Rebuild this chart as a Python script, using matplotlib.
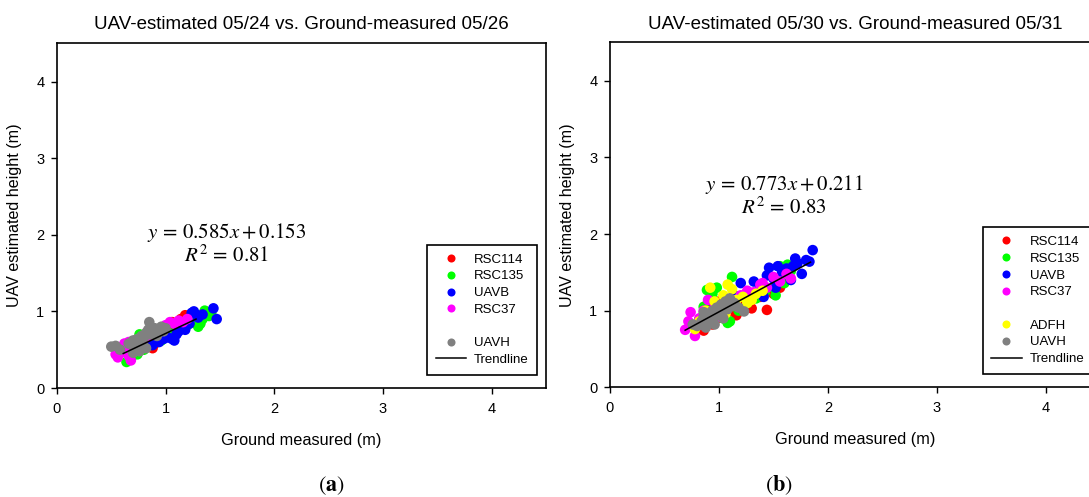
import matplotlib
matplotlib.use("Agg")
import matplotlib.pyplot as plt
from matplotlib.lines import Line2D

plt.rcParams['font.family'] = ['Liberation Sans', 'DejaVu Sans']
plt.rcParams['mathtext.fontset'] = 'stix'

# panel (a): UAV 05/24 vs ground 05/26
a_red_x = [0.78, 0.84, 0.88, 0.92, 0.96, 1.00, 1.04, 1.06, 1.10, 1.14, 1.18, 0.90, 0.98]
a_red_y = [0.56, 0.60, 0.52, 0.64, 0.70, 0.74, 0.82, 0.86, 0.80, 0.90, 0.95, 0.58, 0.66]
a_green_x = [0.64, 0.68, 0.72, 0.76, 0.80, 0.86, 0.90, 0.96, 1.02, 1.08, 1.14, 1.20, 1.26, 1.30, 1.34, 1.36, 1.40, 1.42, 0.74, 1.32]
a_green_y = [0.34, 0.38, 0.62, 0.70, 0.50, 0.56, 0.64, 0.62, 0.70, 0.72, 0.78, 0.82, 0.86, 0.80, 0.90, 1.01, 0.94, 0.97, 0.44, 0.84]
a_blue_x = [0.88, 0.94, 0.98, 1.02, 1.06, 1.08, 1.12, 1.16, 1.18, 1.22, 1.24, 1.26, 1.30, 1.34, 1.44, 1.47, 1.10, 1.00, 1.20]
a_blue_y = [0.56, 0.60, 0.64, 0.66, 0.64, 0.62, 0.74, 0.80, 0.76, 0.84, 0.98, 1.00, 0.92, 0.96, 1.04, 0.90, 0.70, 0.80, 0.88]
a_mag_x = [0.54, 0.56, 0.58, 0.60, 0.62, 0.64, 0.66, 0.68, 0.70, 0.72, 0.76, 0.80, 0.84, 0.88, 0.94, 1.00, 1.04, 1.08, 1.12, 1.16, 1.20, 0.66, 0.62]
a_mag_y = [0.44, 0.40, 0.48, 0.52, 0.56, 0.46, 0.60, 0.36, 0.50, 0.62, 0.56, 0.64, 0.68, 0.72, 0.76, 0.82, 0.86, 0.84, 0.88, 0.86, 0.90, 0.42, 0.58]
a_gray_x = [0.50, 0.54, 0.58, 0.66, 0.70, 0.72, 0.74, 0.76, 0.78, 0.80, 0.82, 0.84, 0.85, 0.86, 0.88, 0.90, 0.92, 0.94, 0.96, 0.98, 1.00, 0.76, 0.82, 0.70]
a_gray_y = [0.54, 0.55, 0.50, 0.58, 0.62, 0.56, 0.64, 0.60, 0.68, 0.66, 0.72, 0.76, 0.86, 0.70, 0.74, 0.78, 0.68, 0.76, 0.80, 0.74, 0.78, 0.48, 0.52, 0.46]
a_trend_x = [0.61, 1.28]
a_trend_y = [0.45, 0.90]

# panel (b): UAV 05/30 vs ground 05/31
b_red_x = [0.80, 0.86, 0.90, 0.94, 0.98, 1.04, 1.10, 1.16, 1.22, 1.30, 1.38, 1.44, 1.50, 1.56, 0.88, 1.00]
b_red_y = [0.76, 0.74, 1.10, 0.82, 0.90, 0.96, 1.00, 0.94, 1.06, 1.03, 1.18, 1.01, 1.22, 1.30, 0.80, 1.12]
b_green_x = [0.82, 0.86, 0.89, 0.94, 0.98, 1.04, 1.10, 1.12, 1.18, 1.26, 1.34, 1.42, 1.50, 1.56, 1.60, 1.63, 1.66, 1.52, 1.08]
b_green_y = [0.88, 1.05, 1.27, 1.22, 1.30, 0.90, 0.86, 1.44, 1.00, 1.10, 1.16, 1.24, 1.30, 1.58, 1.36, 1.60, 1.52, 1.20, 0.84]
b_blue_x = [1.00, 1.06, 1.14, 1.20, 1.26, 1.32, 1.38, 1.44, 1.46, 1.50, 1.54, 1.58, 1.62, 1.66, 1.70, 1.72, 1.76, 1.80, 1.83, 1.86, 1.41, 1.52, 1.68]
b_blue_y = [1.00, 1.08, 1.20, 1.36, 1.24, 1.38, 1.30, 1.46, 1.56, 1.42, 1.58, 1.50, 1.55, 1.40, 1.68, 1.62, 1.48, 1.66, 1.64, 1.79, 1.18, 1.30, 1.58]
b_mag_x = [0.69, 0.72, 0.74, 0.76, 0.78, 0.82, 0.86, 0.90, 0.95, 1.00, 1.06, 1.12, 1.20, 1.26, 1.32, 1.38, 1.44, 1.50, 1.56, 1.62, 1.66, 0.84, 0.92, 1.40]
b_mag_y = [0.75, 0.86, 0.98, 0.80, 0.67, 0.90, 1.00, 1.14, 1.02, 0.92, 1.10, 1.08, 1.20, 1.26, 1.24, 1.34, 1.30, 1.44, 1.38, 1.48, 1.42, 0.82, 0.88, 1.36]
b_yel_x = [0.78, 0.82, 0.88, 0.92, 0.96, 1.00, 1.04, 1.08, 1.12, 1.16, 1.22, 1.26, 1.30, 1.34, 1.40, 0.90, 1.06]
b_yel_y = [0.76, 0.86, 1.00, 1.30, 1.12, 1.06, 1.20, 1.34, 1.28, 1.14, 1.18, 1.10, 1.14, 1.22, 1.26, 0.92, 0.96]
b_gray_x = [0.76, 0.80, 0.84, 0.86, 0.88, 0.90, 0.92, 0.94, 0.96, 0.98, 1.00, 1.02, 1.04, 1.06, 1.08, 1.10, 1.12, 1.14, 1.18, 1.23, 0.96, 1.04, 0.86]
b_gray_y = [0.82, 0.80, 0.86, 0.92, 0.78, 0.96, 0.88, 1.00, 0.92, 1.04, 0.96, 1.08, 1.00, 1.12, 1.02, 1.16, 1.06, 1.10, 1.04, 0.99, 0.82, 0.90, 0.98]
b_trend_x = [0.69, 1.84]
b_trend_y = [0.745, 1.633]

ticks = [0, 1, 2, 3, 4]

fig = plt.figure(figsize=(10.89, 4.97), dpi=100)
ax1 = fig.add_axes([0.0523, 0.2193, 0.449, 0.6936])
ax2 = fig.add_axes([0.5601, 0.2207, 0.4504, 0.694])

def style(ax, title):
    ax.set_xlim(0, 4.5)
    ax.set_ylim(0, 4.5)
    ax.set_xticks(ticks)
    ax.set_yticks(ticks)
    for s in ax.spines.values():
        s.set_linewidth(1.2)
    ax.tick_params(axis='x', direction='out', length=4, width=1, pad=6, labelsize=10.5)
    ax.tick_params(axis='y', direction='out', length=4, width=1, pad=5, labelsize=10.5)
    ax.set_xlabel("Ground measured (m)", fontsize=11.7, labelpad=12)
    ax.set_ylabel("UAV estimated height (m)", fontsize=11.6, labelpad=10)
    ax.set_title(title, fontsize=13.5, pad=10)

def dot(ax, x, y, c):
    ax.scatter(x, y, s=58, c=c, edgecolors='none', zorder=2)

dot(ax1, a_red_x, a_red_y, '#ff0000')
dot(ax1, a_green_x, a_green_y, '#00ff00')
dot(ax1, a_blue_x, a_blue_y, '#0000ff')
dot(ax1, a_mag_x, a_mag_y, '#ff00ff')
dot(ax1, a_gray_x, a_gray_y, '#808080')
ax1.plot(a_trend_x, a_trend_y, color='black', lw=1.1, zorder=3)
style(ax1, "UAV-estimated 05/24 vs. Ground-measured 05/26")
ax1.text(1.56, 2.03, r"$y\,=\,0.585x+0.153$", fontsize=15, ha='center', va='center')
ax1.text(1.56, 1.74, r"$R^2\,=\,0.81$", fontsize=15, ha='center', va='center')

dot(ax2, b_red_x, b_red_y, '#ff0000')
dot(ax2, b_green_x, b_green_y, '#00ff00')
dot(ax2, b_blue_x, b_blue_y, '#0000ff')
dot(ax2, b_mag_x, b_mag_y, '#ff00ff')
dot(ax2, b_yel_x, b_yel_y, '#ffff00')
dot(ax2, b_gray_x, b_gray_y, '#808080')
ax2.plot(b_trend_x, b_trend_y, color='black', lw=1.1, zorder=3)
style(ax2, "UAV-estimated 05/30 vs. Ground-measured 05/31")
ax2.text(1.6, 2.64, r"$y\,=\,0.773x+0.211$", fontsize=15, ha='center', va='center')
ax2.text(1.6, 2.35, r"$R^2\,=\,0.83$", fontsize=15, ha='center', va='center')

def mk(c, lab):
    return Line2D([], [], ls='none', marker='o', ms=5.8, mfc=c, mec='none', label=lab)

blank = Line2D([], [], ls='none', label=' ')
trend = Line2D([], [], color='black', lw=1.1, label='Trendline')

leg_kw = dict(fontsize=9.5, frameon=True, fancybox=False, framealpha=1, edgecolor='black',
              handlelength=2.3, handletextpad=0.6, labelspacing=0.34, borderpad=0.65,
              borderaxespad=0)

h1 = [mk('#ff0000', 'RSC114'), mk('#00ff00', 'RSC135'), mk('#0000ff', 'UAVB'),
      mk('#ff00ff', 'RSC37'), blank, mk('#808080', 'UAVH'), trend]
l1 = ax1.legend(handles=h1, loc='upper left', bbox_to_anchor=(0.757, 0.415), **leg_kw)
l1.get_frame().set_linewidth(1.2)

h2 = [mk('#ff0000', 'RSC114'), mk('#00ff00', 'RSC135'), mk('#0000ff', 'UAVB'),
      mk('#ff00ff', 'RSC37'), blank, mk('#ffff00', 'ADFH'), mk('#808080', 'UAVH'), trend]
l2 = ax2.legend(handles=h2, loc='upper left', bbox_to_anchor=(0.76, 0.464), **leg_kw)
l2.get_frame().set_linewidth(1.2)

fig.text(0.304, 0.022, r"$(\mathbf{a})$", fontsize=16, ha='center', va='center')
fig.text(0.715, 0.024, r"$(\mathbf{b})$", fontsize=16, ha='center', va='center')

fig.savefig("out.png", dpi=100)
